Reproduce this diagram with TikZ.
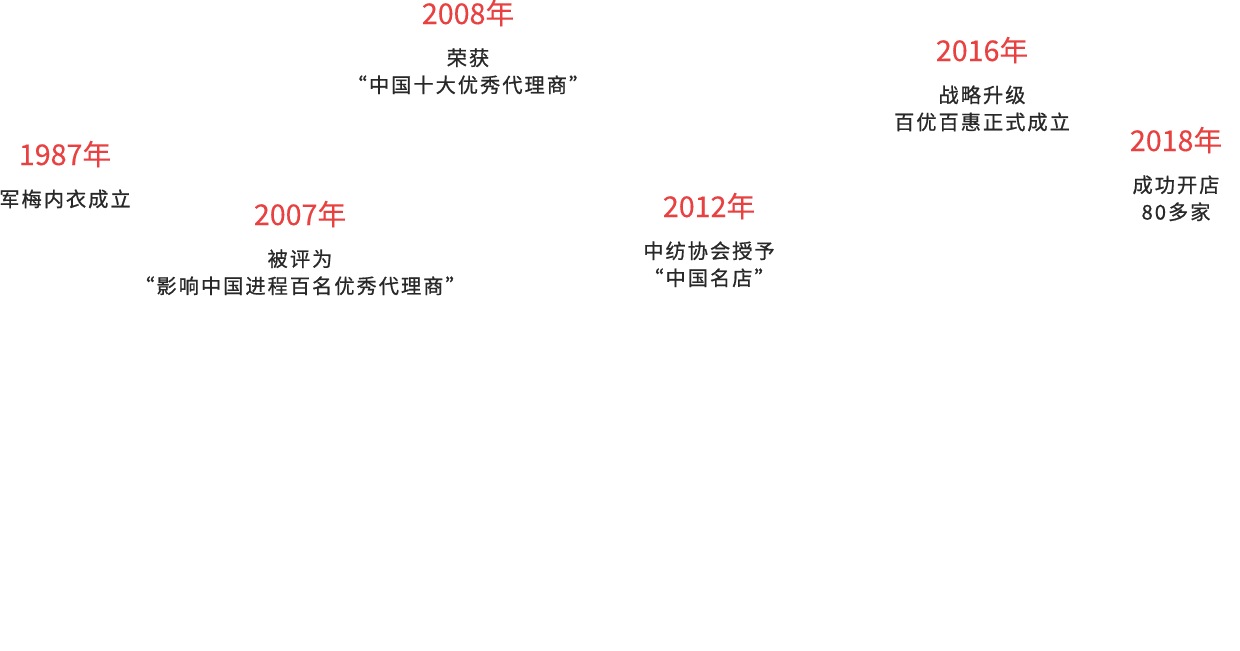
\documentclass[tikz,border=0pt]{standalone}
\usepackage{fontspec}
\setmainfont{Noto Sans CJK SC}
\usetikzlibrary{positioning}
\definecolor{yearred}{RGB}{232,65,65}
\definecolor{textgray}{RGB}{40,40,40}

\begin{document}
\begin{tikzpicture}[
        x=0.02cm, y=-0.02cm,
        node distance=0.37cm,
        year/.style={font=\fontsize{16.3pt}{18pt}\selectfont\addfontfeature{FakeBold=0.3}, text=yearred, inner sep=0pt, text height=11pt, text depth=3pt},
        event/.style={font=\fontsize{11.5pt}{15.4pt}\selectfont\addfontfeature{LetterSpace=10,FakeBold=0.8}, text=textgray, inner sep=0pt, align=center}
      ]
        \useasboundingbox (0,0) rectangle (1240,651);

        \node (y1987) [year] at (65,158) {1987年};
        \node (e1987) [below=of y1987, event] {军梅内衣成立};

        \node (y2007) [year] at (300,218) {2007年};
        \node (e2007) [below=of y2007, event] {被评为\\“影响中国进程百名优秀代理商”};

        \node (y2008) [year] at (468,17) {2008年};
        \node (e2008) [below=of y2008, event] {荣获\\“中国十大优秀代理商”};

        \node (y2012) [year] at (709,210) {2012年};
        \node (e2012) [below=of y2012, event] {中纺协会授予\\“中国名店”};

        \node (y2016) [year] at (982,54) {2016年};
        \node (e2016) [below=of y2016, event] {战略升级\\百优百惠正式成立};

        \node (y2018) [year] at (1176,144) {2018年};
        \node (e2018) [below=of y2018, event] {成功开店\\80多家};

      \end{tikzpicture}
\end{document}
